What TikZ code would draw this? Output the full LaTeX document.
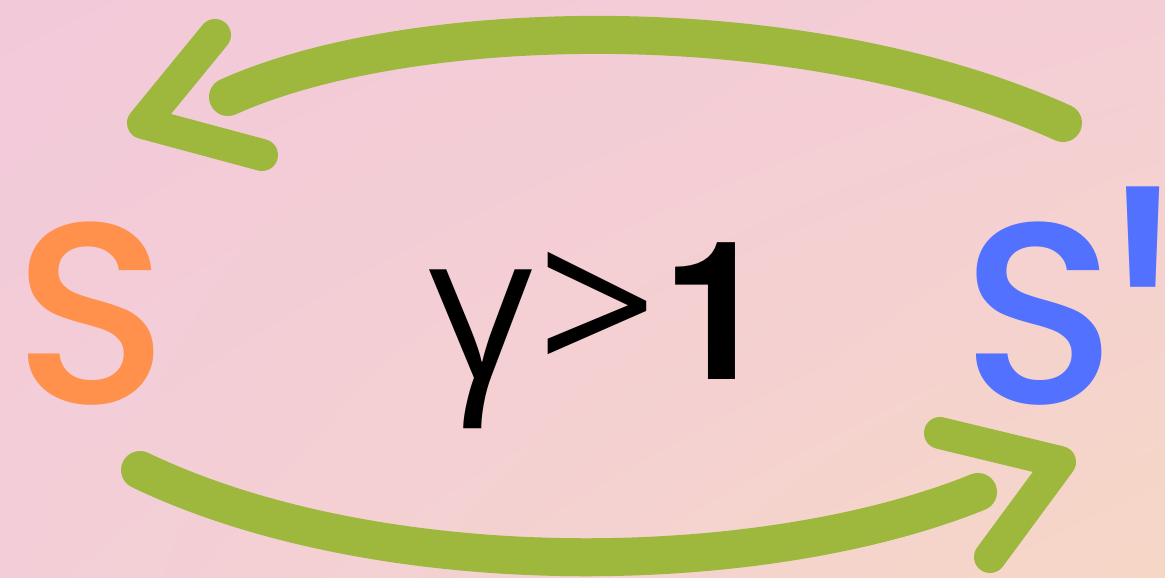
\documentclass[tikz,border=0pt]{standalone}
\usepackage{fontspec}
\usetikzlibrary{shadings}
\IfFontExistsTF{Poppins Medium}{\newfontfamily\popm{Poppins Medium}}{\newfontfamily\popm{Poppins}[FakeBold=2]}
\newfontfamily\opensans{Open Sans}
\newfontfamily\heros{TeX Gyre Heros}
\definecolor{arrowgreen}{HTML}{9DB83D}
\definecolor{sorange}{HTML}{FF914D}
\definecolor{sblue}{HTML}{5271FF}
\definecolor{bgTL}{HTML}{F2C9D9}
\definecolor{bgTR}{HTML}{F4CED5}
\definecolor{bgBL}{HTML}{F3CED8}
\definecolor{bgBR}{HTML}{F6D7C6}
\begin{document}
\begin{tikzpicture}[x=1pt,y=-1pt,
  arrowline/.style={draw=arrowgreen,line width=38pt,line cap=round,line join=round},
  headline/.style={draw=arrowgreen,line width=32pt,line cap=round,line join=round},
  bigtext/.style={inner sep=0pt,anchor=base west,font=\popm\fontsize{258}{258}\selectfont}]
\useasboundingbox (0,0) rectangle (1165,578);
\shade[upper left=bgTL, upper right=bgTR, lower left=bgBL, lower right=bgBR] (0,0) rectangle (1165,578);
% text
\node[bigtext,text=sorange] (S) at (13,403) {S};
\node[bigtext,text=sblue] (Sp) at (961,403) {S\kern-2pt\raisebox{-174pt}{\scalebox{1.25}[1.9]{\symbol{"27}}}};
\node[inner sep=0pt,anchor=base west] (gamma) at (428,379)
  {{\opensans\fontsize{205}{205}\selectfont γ\kern4pt\fontsize{210}{210}\selectfont >}\kern5pt{\heros\bfseries\fontsize{193}{193}\selectfont 1}};
% upper arrow
\coordinate (u1) at (1063,123);
\coordinate (u2) at (228,97);
\coordinate (uh1) at (215,35);
\coordinate (uhc) at (143,123);
\coordinate (uh2) at (262,155);
\draw[arrowline] (u1) .. controls (800,5) and (410,15) .. (u2);
\draw[headline] (uh1) -- (uhc) -- (uh2);
% lower arrow
\coordinate (l1) at (140,470);
\coordinate (l2) at (978,492);
\coordinate (lh1) at (940,433);
\coordinate (lhc) at (1060,462);
\coordinate (lh2) at (990,557);
\draw[arrowline] (l1) .. controls (380,585) and (760,580) .. (l2);
\draw[headline] (lh1) -- (lhc) -- (lh2);
\end{tikzpicture}
\end{document}
